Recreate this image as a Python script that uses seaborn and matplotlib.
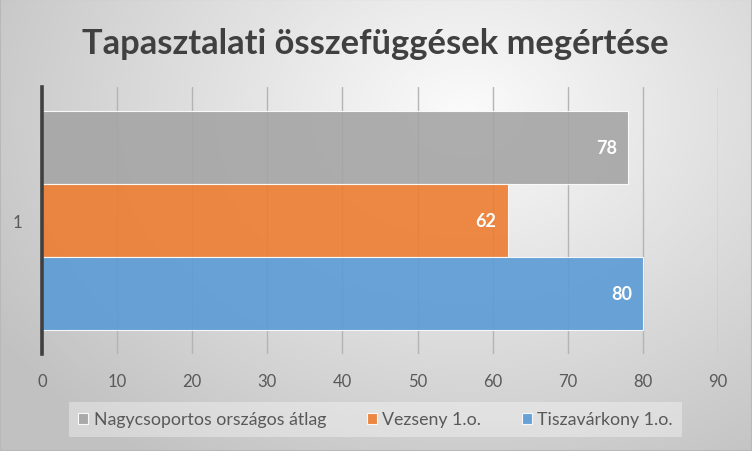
import numpy as np
import pandas as pd
import matplotlib
matplotlib.use("Agg")
import matplotlib.pyplot as plt
import seaborn as sns

# ---- data ----
categories = ["1"]
series = ["Nagycsoportos országos átlag", "Vezseny 1.o.", "Tiszavárkony 1.o."]
values = [78, 62, 80]
colors = ["#a5a5a5", "#ed7d31", "#5b9bd5"]
xticks = [0, 10, 20, 30, 40, 50, 60, 70, 80, 90]
title = "Tapasztalati összefüggések megértése"

df = pd.DataFrame({
    "cat": categories * len(series),
    "series": series,
    "value": values,
})

sns.set_theme(style="white")
plt.rcParams["font.family"] = ["Lato", "DejaVu Sans"]

fig = plt.figure(figsize=(7.52, 4.52), dpi=100)

# radial gradient background
bg = fig.add_axes([0, 0, 1, 1], zorder=-10)
h, w = 452, 752
yy, xx = np.mgrid[0:h, 0:w]
cx, cy = 0.62 * w, 0.25 * h
r = np.sqrt(((xx - cx) / (0.75 * w)) ** 2 + ((yy - cy) / (0.95 * h)) ** 2)
val = np.clip(0.985 - 0.23 * r, 0.76, 1.0)
bg.imshow(np.dstack([val, val, val]), aspect="auto", extent=[0, 1, 0, 1],
          origin="upper")
bg.set_xlim(0, 1); bg.set_ylim(0, 1)
bg.axis("off")
fig.patches.append(plt.Rectangle((0, 0), 1, 1, transform=fig.transFigure,
                                 fill=False, edgecolor="#b8b8b8", lw=1.5))

ax = fig.add_axes([42 / 752, 1 - 355 / 452, 676 / 752, 267 / 452])
ax.set_facecolor("none")

sns.barplot(data=df, y="cat", x="value", hue="series", orient="h",
            palette=colors, saturation=1, width=0.82, alpha=0.9, ax=ax,
            legend=True, edgecolor="white", linewidth=0.8, zorder=2)

ax.set_xlim(0, 90)
ax.set_ylim(0.5, -0.5)
ax.set_xticks(xticks)
ax.set_xticklabels([str(t) for t in xticks])
ax.xaxis.grid(True, color="#b4b4b4", lw=1.0, zorder=0)
ax.set_axisbelow(True)
ax.tick_params(axis="x", length=0, pad=14, labelsize=12, labelcolor="#595959")
ax.tick_params(axis="y", length=0, pad=14, labelsize=12, labelcolor="#595959")
ax.set_xlabel("")
ax.set_ylabel("")
for s in ["top", "right", "bottom"]:
    ax.spines[s].set_visible(False)
ax.spines["left"].set_color("#404040")
ax.spines["left"].set_linewidth(2.6)
ax.spines["left"].set_zorder(5)

for cont in ax.containers:
    texts = ax.bar_label(cont, padding=-8, color="white", fontweight="bold",
                         fontsize=13)
    for t in texts:
        t.set_ha("right")

handles, labels = ax.get_legend_handles_labels()
ax.get_legend().remove()
leg = fig.legend(handles, labels, loc="center",
                 bbox_to_anchor=(375.5 / 752, 1 - 420.5 / 452), ncol=3,
                 frameon=True, fontsize=12.8, handlelength=0.55, handleheight=0.55,
                 handletextpad=0.3, columnspacing=2.3, borderpad=0.55,
                 borderaxespad=0, labelcolor="#595959")
fr = leg.get_frame()
fr.set_facecolor("white")
fr.set_alpha(0.35)
fr.set_edgecolor("none")
fr.set_boxstyle("square", pad=0)

fig.text(375 / 752, 1 - 44 / 452, title, ha="center", va="center",
         fontsize=24.8, fontweight="bold", color="#404040")

fig.savefig("out.png", dpi=100)
